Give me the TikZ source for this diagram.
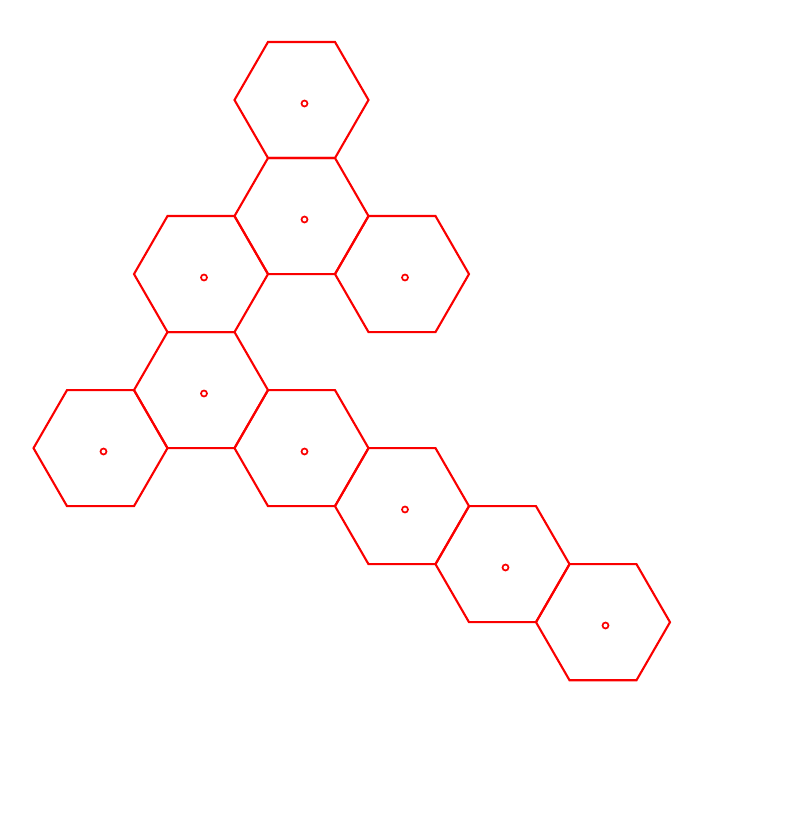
\documentclass[tikz,border=0pt]{standalone}
\usepackage{tikz}
\usetikzlibrary{shapes.geometric}
\definecolor{cellred}{RGB}{250,0,0}
\tikzset{
  cell/.style={
    regular polygon, regular polygon sides=6, draw=cellred,
    line width=2.1pt, minimum size=134pt, inner sep=0pt, outer sep=0pt
  },
  site/.style={
    circle, draw=cellred, line width=1.7pt, minimum size=6pt,
    inner sep=0pt
  },
}
\begin{document}
\begin{tikzpicture}[x=1pt, y=-1pt]
  \useasboundingbox (0,0) rectangle (802,822);

  % hexagonal cells
  \node[cell] (h1) at (301.5,100) {};
  \node[cell] (h2) at (301.5,216.04) {};
  \node[cell] (h3) at (201,274.06) {};
  \node[cell] (h4) at (402,274.06) {};
  \node[cell] (h5) at (201,390.1) {};
  \node[cell] (h6) at (100.5,448.12) {};
  \node[cell] (h7) at (301.5,448.12) {};
  \node[cell] (h8) at (402,506.14) {};
  \node[cell] (h9) at (502.5,564.16) {};
  \node[cell] (h10) at (603,622.18) {};

  % sites
  \node[site] (s1) at (304.5,103.5) {};
  \node[site] (s2) at (304.5,219.5) {};
  \node[site] (s3) at (204,277.5) {};
  \node[site] (s4) at (405,277.5) {};
  \node[site] (s5) at (204,393.5) {};
  \node[site] (s6) at (103.5,451.5) {};
  \node[site] (s7) at (304.5,451.5) {};
  \node[site] (s8) at (405,509.5) {};
  \node[site] (s9) at (505.5,567.5) {};
  \node[site] (s10) at (605.5,625.5) {};
\end{tikzpicture}
\end{document}
